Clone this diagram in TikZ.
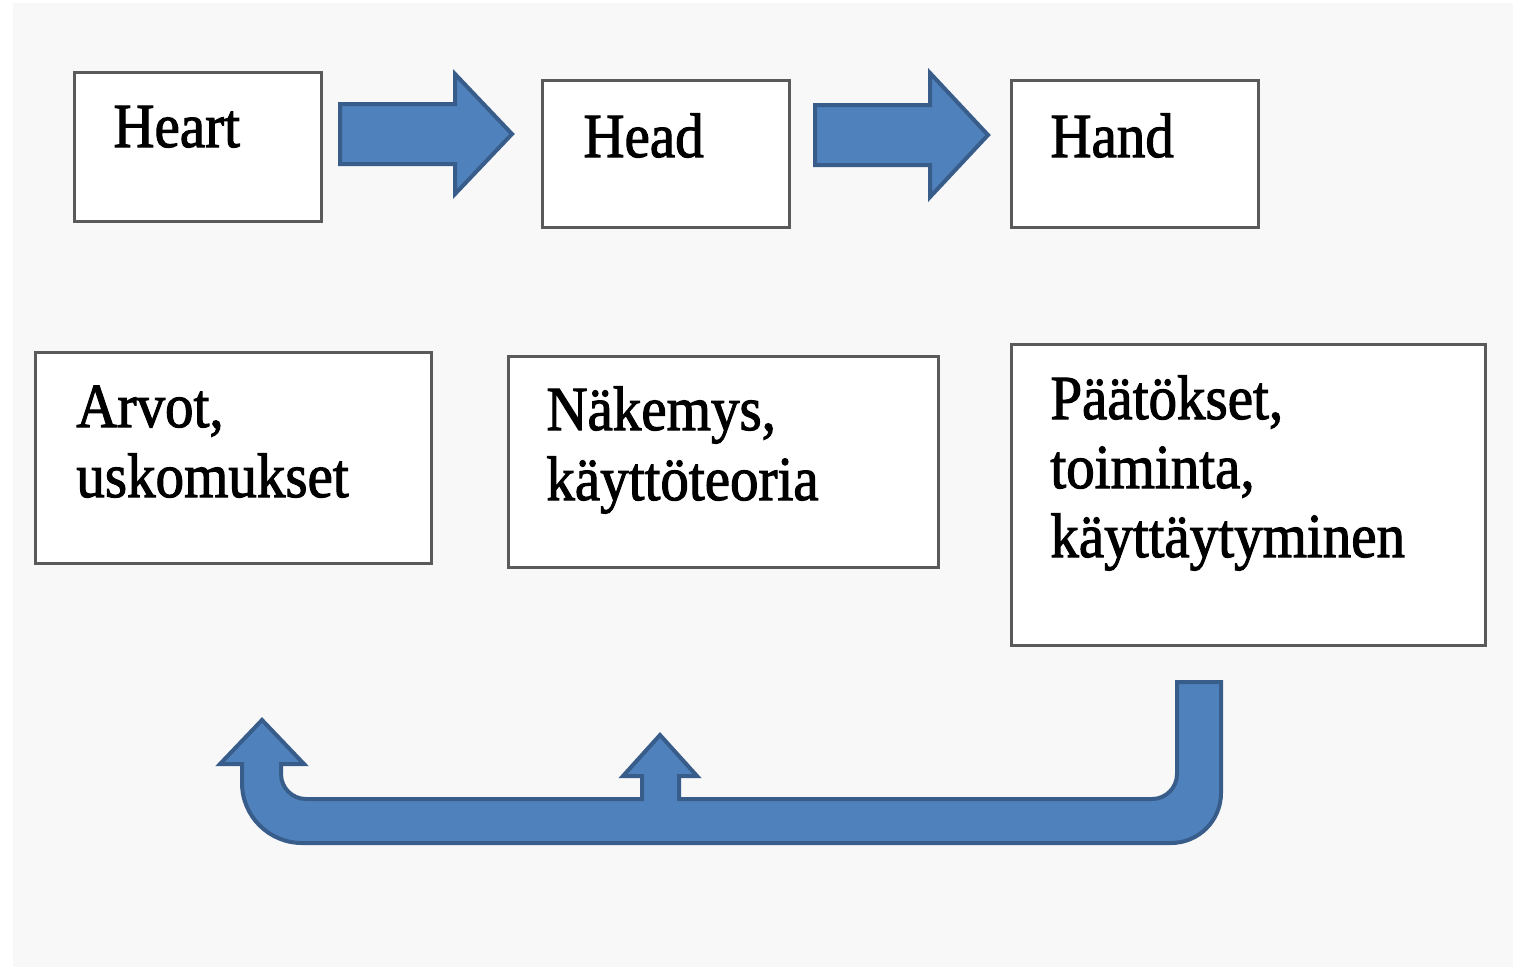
\documentclass[tikz,border=0pt]{standalone}
\usepackage{fontspec}
\setmainfont{Liberation Serif}[BoldFont={Liberation Serif},BoldFeatures={FakeBold=1.8}]
\definecolor{bgc}{HTML}{F8F8F8}
\definecolor{arrowfill}{HTML}{4F81BD}
\definecolor{arrowline}{HTML}{385D8A}
\definecolor{boxline}{HTML}{5A5A5A}
\begin{document}
\begin{tikzpicture}[x=0.5pt,y=-0.5pt,
  box/.style={draw=boxline, line width=1.5pt, fill=white, inner sep=0pt, anchor=north west},
  lbl/.style={anchor=base west, inner sep=0pt, font=\fontsize{28.5}{30}\selectfont\bfseries, yscale=1.1},
  blockarrow/.style={fill=arrowfill, draw=arrowline, line width=2pt, line join=miter}]
\useasboundingbox (0,0) rectangle (1524,970);
\fill[white] (0,0) rectangle (1524,970);
\fill[bgc] (13,3) rectangle (1513,967);
% top row boxes
\node[box, minimum width=123.5pt, minimum height=74.5pt] (heart) at (73,71) {};
\node[box, minimum width=123.5pt, minimum height=73.5pt] (head) at (541,79) {};
\node[box, minimum width=123.5pt, minimum height=73.5pt] (hand) at (1010,79) {};
% bottom row boxes
\node[box, minimum width=198pt, minimum height=105.5pt] (arvot) at (34,351) {};
\node[box, minimum width=215pt, minimum height=105.5pt] (nakemys) at (507,355) {};
\node[box, minimum width=237pt, minimum height=150.5pt] (paatokset) at (1010,343) {};
% texts
\node[lbl] (tHeart) at (113,147) {Heart};
\node[lbl] (tHead) at (583,157) {Head};
\node[lbl] (tHand) at (1050,157) {Hand};
\node[lbl] (tArvot1) at (76,427) {Arvot,};
\node[lbl] (tArvot2) at (76,497) {uskomukset};
\node[lbl] (tNak1) at (546,430) {Näkemys,};
\node[lbl] (tNak2) at (546,500) {käyttöteoria};
\node[lbl] (tPaa1) at (1050,419) {Päätökset,};
\node[lbl] (tPaa2) at (1050,488) {toiminta,};
\node[lbl] (tPaa3) at (1050,557) {käyttäytyminen};
% block arrows
\draw[blockarrow] (340,104) -- (455,104) -- (455,74) -- (512,134) -- (455,194) -- (455,164) -- (340,164) -- cycle;
\draw[blockarrow] (815,105) -- (930,105) -- (930,73) -- (988,135) -- (930,197) -- (930,165) -- (815,165) -- cycle;
% feedback arrow
\draw[blockarrow] (262,720) -- (304,764) -- (281,764) -- (281,774)
  .. controls (281,787.8) and (292.2,799) .. (306,799) -- (642,799) -- (642,776) -- (623,776)
  -- (660,735) -- (697,776) -- (679,776) -- (679,799) -- (1152,799)
  .. controls (1165.8,799) and (1177,787.8) .. (1177,774) -- (1177,682) -- (1221,682) -- (1221,793)
  .. controls (1221,820.6) and (1198.6,843) .. (1171,843) -- (302,843)
  .. controls (268.9,843) and (242,816.1) .. (242,783) -- (242,764) -- (220,764) -- cycle;
\end{tikzpicture}
\end{document}
